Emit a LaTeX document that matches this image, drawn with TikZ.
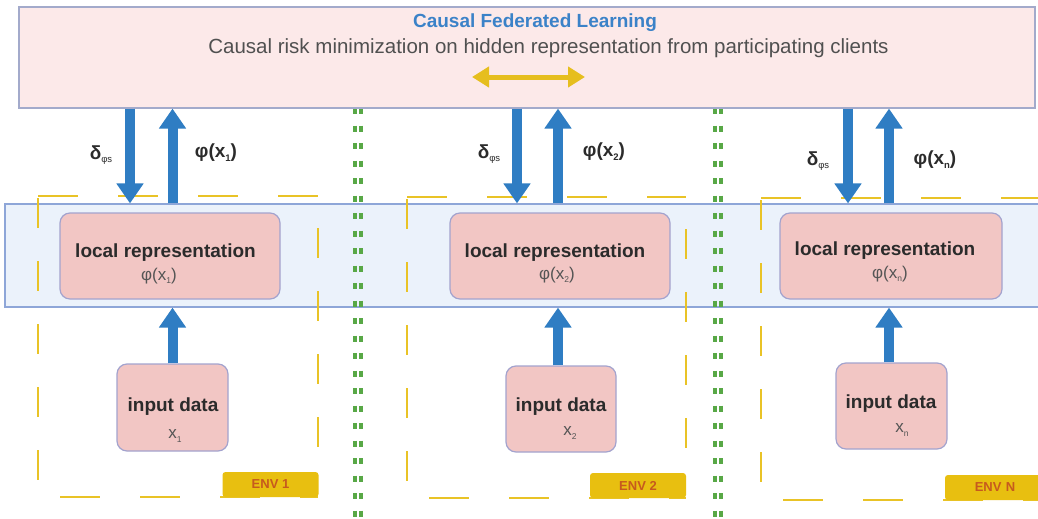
\documentclass[tikz,border=0pt]{standalone}
\usepackage{fontspec}
\setmainfont{Liberation Sans}
\usetikzlibrary{arrows.meta}
\definecolor{topfill}{HTML}{FCE9E9}
\definecolor{topdraw}{HTML}{A3AACB}
\definecolor{titleblue}{HTML}{3B82C8}
\definecolor{subgray}{HTML}{505050}
\definecolor{bandfill}{HTML}{EBF2FB}
\definecolor{banddraw}{HTML}{8EA6D8}
\definecolor{arrowblue}{HTML}{2F7DC3}
\definecolor{boxfill}{HTML}{F2C6C4}
\definecolor{boxdraw}{HTML}{A3A3CE}
\definecolor{darktext}{HTML}{2B2B2B}
\definecolor{midtext}{HTML}{555555}
\definecolor{dashyellow}{HTML}{E9C326}
\definecolor{envfill}{HTML}{E8BF10}
\definecolor{envtext}{HTML}{C65A1E}
\definecolor{dotgreen}{HTML}{58A846}
\definecolor{dblyellow}{HTML}{E6BE1E}
\newcommand\tsb[1]{\raisebox{-0.35ex}{\scalebox{0.5}{#1}}}
\begin{document}
\begin{tikzpicture}[x=1pt,y=-1pt,
  topbox/.style={draw=topdraw,fill=topfill,line width=1.2pt,minimum width=1016pt,minimum height=101pt,inner sep=0pt},
  bandbox/.style={draw=banddraw,fill=bandfill,line width=1.2pt,minimum width=1040pt,minimum height=103pt,inner sep=0pt},
  lbox/.style={draw=boxdraw,fill=boxfill,line width=1.2pt,rounded corners=10pt,minimum width=220pt,minimum height=86pt,inner sep=0pt},
  ibox/.style={draw=boxdraw,fill=boxfill,line width=1.2pt,rounded corners=10pt,minimum width=110pt,minimum height=86pt,inner sep=0pt},
  btxt/.style={text=darktext,font=\fontsize{19}{22}\selectfont\bfseries,inner sep=0pt},
  rtxt/.style={text=midtext,font=\fontsize{17}{20}\selectfont,inner sep=0pt},
  lbl/.style={text=darktext,font=\fontsize{19}{22}\selectfont\bfseries,inner sep=0pt},
  barrow/.style={draw=arrowblue,line width=10pt,-{Triangle[width=26pt,length=20pt]}},
  gdot/.style={draw=dotgreen,line width=4.5pt,dash pattern=on 6pt off 11.5pt},
  ydashh/.style={draw=dashyellow,line width=2pt,dash pattern=on 40pt off 40pt},
  ydashv/.style={draw=dashyellow,line width=2pt,dash pattern=on 30pt off 33pt},
  envbox/.style={fill=envfill,rounded corners=3pt,minimum width=96pt,minimum height=25pt,inner sep=0pt,text=envtext,font=\fontsize{13}{15}\selectfont\bfseries}
]
\useasboundingbox (0,0) rectangle (1038,519);
\fill[white] (0,0) rectangle (1038,519);
\clip (0,0) rectangle (1038,519);

% band
\node[bandbox] (band) at (525,255.5) {};

% green dotted separators
\foreach \x in {358,718} {
  \draw[gdot] (\x-3,108) -- (\x-3,519);
  \draw[gdot] (\x+3,108) -- (\x+3,519);
}

% yellow dashed environment frames
\draw[ydashh] (38,196) -- (318,196);
\draw[ydashh,dash phase=-22pt] (38,497) -- (318,497);
\draw[ydashv] (38,198) -- (38,497);
\draw[ydashv,dash phase=-30pt] (318,198) -- (318,470);

\draw[ydashh] (407,197) -- (686,197);
\draw[ydashh,dash phase=-22pt] (407,498) -- (686,498);
\draw[ydashv] (407,199) -- (407,498);
\draw[ydashv,dash phase=-30pt] (686,199) -- (686,470);

\draw[ydashh] (761,198) -- (1045,198);
\draw[ydashh,dash phase=-22pt] (761,500) -- (1045,500);
\draw[ydashv] (761,200) -- (761,500);

% ENV labels
\node[envbox] (env1) at (270.5,484.5) {ENV 1};
\node[envbox] (env2) at (638,485.5) {ENV 2};
\node[envbox,minimum width=100pt,text width=80pt,align=center] (env3) at (995,487.5) {ENV N};

% top box
\node[topbox] (cfl) at (527,57.5) {};
\node[text=titleblue,font=\fontsize{19}{22}\selectfont\bfseries,inner sep=0pt] (title) at (535,23) {Causal Federated Learning};
\node[text=subgray,font=\fontsize{20.5}{24}\selectfont,inner sep=0pt] (sub) at (548.5,48) {Causal risk minimization on hidden representation from participating clients};
\coordinate (dl) at (472,77);
\coordinate (dr) at (585,77);
\draw[draw=dblyellow,line width=5pt,{Triangle[width=20pt,length=17pt]}-{Triangle[width=20pt,length=17pt]}] (dl) -- (dr);

% local representation boxes
\node[lbox] (lr1) at (170,256) {};
\node[lbox] (lr2) at (560,256) {};
\node[lbox,minimum width=222pt] (lr3) at (891,256) {};
\node[btxt] (lr1t) at (165.5,253) {local representation};
\node[btxt] (lr2t) at (555,253) {local representation};
\node[btxt] (lr3t) at (885,251) {local representation};
\node[rtxt] (lr1p) at (159,276) {φ(x\tsb{1})};
\node[rtxt] (lr2p) at (557,275) {φ(x\tsb{2})};
\node[rtxt] (lr3p) at (890,274) {φ(x\tsb{n})};

% input boxes
\node[ibox,minimum width=111pt,minimum height=87pt] (in1) at (172.5,407.5) {};
\node[ibox] (in2) at (561,409) {};
\node[ibox,minimum width=111pt] (in3) at (891.5,406) {};
\node[btxt] (in1t) at (173,407) {input data};
\node[btxt] (in2t) at (561,407) {input data};
\node[btxt] (in3t) at (891,404) {input data};
\node[rtxt] (in1x) at (175,436) {x\tsb{1}};
\node[rtxt] (in2x) at (570,433) {x\tsb{2}};
\node[rtxt] (in3x) at (902,430) {x\tsb{n}};

% arrows
\draw[barrow] (cfl.south -| 130,0) -- (band.north -| 130,0);
\draw[barrow] (band.north -| 172.5,0) -- (cfl.south -| 172.5,0);
\draw[barrow] (in1.north) -- (band.south -| in1.north);

\draw[barrow] (cfl.south -| 517,0) -- (band.north -| 517,0);
\draw[barrow] (band.north -| 558,0) -- (cfl.south -| 558,0);
\draw[barrow] (in2.north -| 558,0) -- (band.south -| 558,0);

\draw[barrow] (cfl.south -| 848,0) -- (band.north -| 848,0);
\draw[barrow] (band.north -| 889,0) -- (cfl.south -| 889,0);
\draw[barrow] (in3.north -| 889,0) -- (band.south -| 889,0);

% arrow labels
\node[lbl] (d1) at (101,155) {δ\tsb{\mdseries φs}};
\node[lbl] (p1) at (216,153) {φ(x\tsb{1})};
\node[lbl] (d2) at (489,154) {δ\tsb{\mdseries φs}};
\node[lbl] (p2) at (604,152) {φ(x\tsb{2})};
\node[lbl] (d3) at (818,161) {δ\tsb{\mdseries φs}};
\node[lbl] (p3) at (935,160) {φ(x\tsb{n})};
\end{tikzpicture}
\end{document}
